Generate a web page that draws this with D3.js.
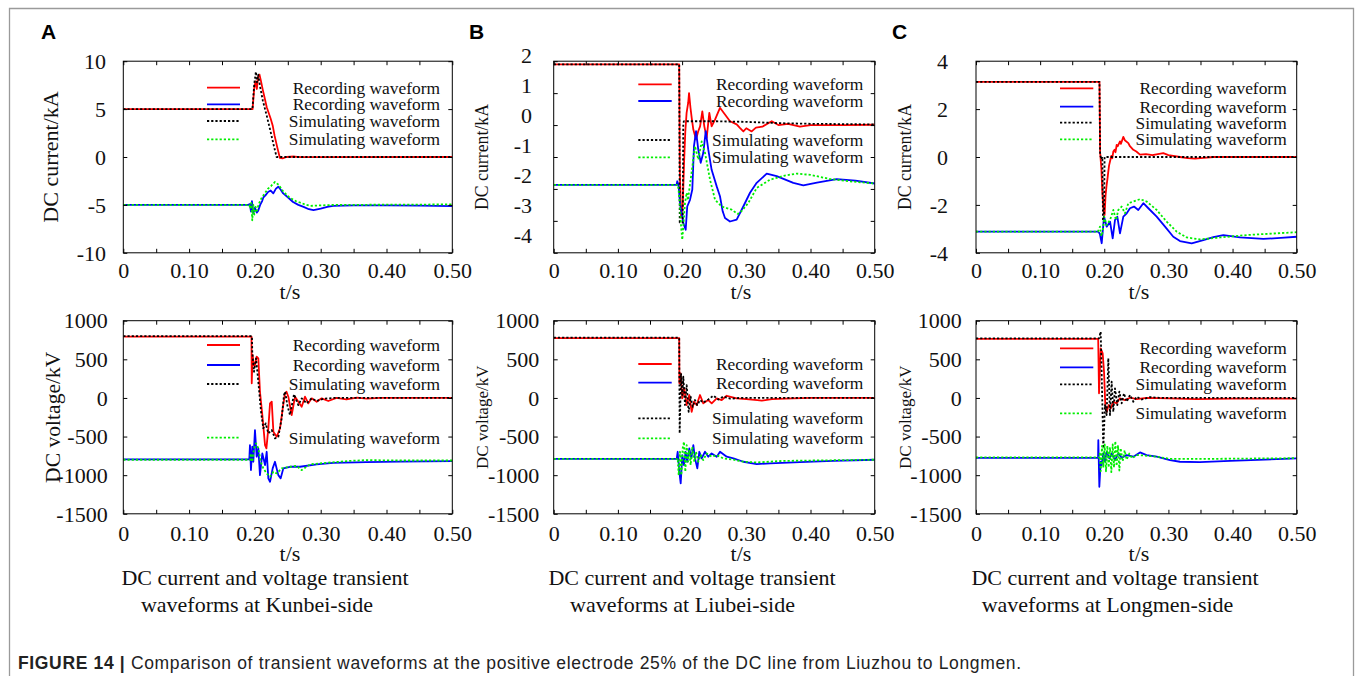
<!DOCTYPE html>
<html>
<head>
<meta charset="utf-8">
<script src="https://cdn.jsdelivr.net/npm/d3@7"></script>
<style>
  body { margin: 0; background: #fff; }
  svg { display: block; }
</style>
</head>
<body>
<svg id="fig" width="1355" height="676"></svg>
<script>
// ---------- time axis ----------
const timeTicks = [0, 0.1, 0.2, 0.3, 0.4, 0.5];
const timeTickLabels = ["0", "0.10", "0.20", "0.30", "0.40", "0.50"];
const timeMinorTicks = [0, 0.05, 0.1, 0.15, 0.2, 0.25, 0.3, 0.35, 0.4, 0.45, 0.5];

// ---------- y axis ticks ----------
const kunbeiCurrentTicks = [-10, -5, 0, 5, 10];
const liubeiCurrentTicks = [-4, -3, -2, -1, 0, 1, 2];
const longmenCurrentTicks = [-4, -2, 0, 2, 4];
const voltageTicks = [-1500, -1000, -500, 0, 500, 1000];

// ---------- legend text ----------
const legendLabels = ["Recording waveform", "Recording waveform", "Simulating waveform", "Simulating waveform"];

// ---------- Kunbei-side DC current (kA), [t (s), value] ----------
const kunbeiCurRecPos = [[0,5],[0.1965,5],[0.199,7.2],[0.201,7.9],[0.203,7.1],[0.205,8.4],[0.207,8.6],[0.209,8.0],[0.212,7.0],[0.215,6.1],[0.218,5.2],[0.221,4.6],[0.224,4.0],[0.227,3.3],[0.230,2.2],[0.234,1.0],[0.238,-0.1],[0.242,-0.15],[0.248,0],[0.26,0.05],[0.27,-0.02],[0.5,0]];
const kunbeiCurRecNeg = [[0,-5],[0.19,-5],[0.1925,-4.9],[0.194,-5.7],[0.1955,-4.6],[0.1976,-5.9],[0.2,-5.3],[0.203,-5.8],[0.205,-5.6],[0.208,-5.0],[0.211,-4.6],[0.213,-4.2],[0.216,-4.0],[0.220,-3.65],[0.224,-3.5],[0.228,-3.8],[0.232,-3.3],[0.2356,-3.1],[0.239,-3.4],[0.243,-3.8],[0.25,-4.2],[0.258,-4.7],[0.266,-5.0],[0.274,-5.2],[0.282,-5.45],[0.289,-5.55],[0.30,-5.4],[0.31,-5.2],[0.319,-5.1],[0.35,-5.05],[0.40,-5.05],[0.45,-5.08],[0.5,-5.12]];
const kunbeiCurSimPos = [[0,5],[0.1962,5],[0.199,7.6],[0.2015,8.9],[0.203,7.8],[0.205,8.6],[0.208,7.3],[0.212,5.9],[0.218,4.3],[0.224,2.6],[0.229,1.1],[0.233,0],[0.5,0]];
const kunbeiCurSimNeg = [[0,-5],[0.1915,-5],[0.193,-5.4],[0.1945,-4.8],[0.196,-6.6],[0.1975,-5.0],[0.199,-6.0],[0.201,-5.2],[0.203,-5.6],[0.206,-4.9],[0.21,-4.3],[0.215,-3.8],[0.22,-3.3],[0.225,-3.0],[0.2305,-2.6],[0.236,-2.9],[0.243,-3.6],[0.252,-4.2],[0.262,-4.6],[0.2685,-4.75],[0.276,-4.95],[0.284,-5.1],[0.30,-5.05],[0.32,-5.0],[0.4,-4.98],[0.5,-4.95]];

// ---------- Liubei-side DC current (kA) ----------
const liubeiCurRecPos = [[0,1.9],[0.1955,1.9],[0.1965,-1.5],[0.1985,-2.9],[0.201,-2.5],[0.203,-1.2],[0.205,-0.2],[0.207,0.38],[0.2095,0.7],[0.2108,1.0],[0.213,0.55],[0.215,0.22],[0.2175,-0.14],[0.2217,-0.45],[0.225,-0.2],[0.228,-0.04],[0.2315,0.43],[0.2346,-0.04],[0.2383,-0.4],[0.2424,0.38],[0.246,-0.04],[0.2513,0.17],[0.259,0.54],[0.2668,0.33],[0.2746,0.12],[0.285,0.02],[0.29,-0.09],[0.2954,-0.2],[0.30,-0.1],[0.3084,-0.2],[0.315,-0.08],[0.325,-0.05],[0.3396,0.12],[0.35,0.0],[0.365,0.04],[0.3836,-0.05],[0.40,0.0],[0.45,0.0],[0.5,0.01]];
const liubeiCurRecNeg = [[0,-1.87],[0.1915,-1.87],[0.1925,-1.76],[0.1945,-1.9],[0.1967,-2.44],[0.2019,-3.07],[0.2056,-3.28],[0.208,-2.55],[0.2123,-2.34],[0.2159,-2.02],[0.2185,-0.66],[0.2217,-0.19],[0.2252,-0.77],[0.229,-1.18],[0.233,-0.87],[0.2368,-0.19],[0.2408,-0.77],[0.246,-1.4],[0.2539,-1.92],[0.259,-2.23],[0.2632,-2.7],[0.2668,-2.91],[0.2746,-3.02],[0.285,-2.96],[0.2953,-2.55],[0.3058,-2.12],[0.3162,-1.81],[0.3318,-1.52],[0.3473,-1.6],[0.3732,-1.81],[0.3888,-1.89],[0.41,-1.8],[0.4408,-1.69],[0.47,-1.74],[0.5,-1.83]];
const liubeiCurSimPos = [[0,1.9],[0.1955,1.9],[0.1963,-3.05],[0.201,-3.05],[0.2018,0.07],[0.203,0.12],[0.25,0.12],[0.30,0.1],[0.35,0.06],[0.40,0.04],[0.5,0.02]];
const liubeiCurSimNeg = [[0,-1.87],[0.1935,-1.87],[0.196,-2.3],[0.1985,-3.2],[0.2003,-3.59],[0.2025,-3.0],[0.2045,-2.44],[0.2072,-2.12],[0.209,-2.35],[0.212,-1.9],[0.216,-1.3],[0.22,-0.66],[0.2253,-1.08],[0.2305,-0.51],[0.2357,-0.87],[0.2435,-1.71],[0.2513,-2.34],[0.2617,-2.55],[0.2773,-2.65],[0.2865,-2.78],[0.2902,-2.75],[0.3031,-2.44],[0.3162,-1.97],[0.337,-1.71],[0.36,-1.58],[0.3785,-1.52],[0.40,-1.56],[0.4304,-1.69],[0.46,-1.76],[0.5,-1.83]];

// ---------- Longmen-side DC current (kA) ----------
const longmenCurRecPos = [[0,3.14],[0.1925,3.14],[0.1935,0.2],[0.1955,-0.5],[0.197,-1.5],[0.199,-2.3],[0.2005,-2.42],[0.202,-1.6],[0.2037,-1.16],[0.205,-0.9],[0.2063,-0.6],[0.2075,-0.35],[0.2089,-0.19],[0.211,0.05],[0.2125,-0.05],[0.2141,0.23],[0.216,0.3],[0.2175,0.2],[0.2193,0.51],[0.221,0.45],[0.2245,0.65],[0.226,0.55],[0.2297,0.84],[0.232,0.7],[0.2375,0.58],[0.24,0.45],[0.2453,0.3],[0.25,0.23],[0.2557,0.1],[0.265,0.12],[0.275,0.08],[0.292,0.16],[0.30,0.08],[0.318,0.0],[0.33,-0.05],[0.3414,-0.07],[0.355,-0.04],[0.37,0.0],[0.5,0.0]];
const longmenCurRecNeg = [[0,-3.12],[0.1905,-3.12],[0.193,-3.2],[0.196,-3.6],[0.1996,-2.49],[0.2038,-2.91],[0.209,-2.7],[0.2131,-3.4],[0.2167,-2.63],[0.2203,-2.49],[0.2245,-3.19],[0.2297,-2.49],[0.235,-2.35],[0.2401,-2.14],[0.2463,-2.07],[0.253,-2.21],[0.2609,-1.93],[0.2687,-2.14],[0.2817,-2.49],[0.2947,-2.91],[0.3076,-3.33],[0.318,-3.51],[0.3363,-3.61],[0.3544,-3.47],[0.37,-3.35],[0.3856,-3.26],[0.4116,-3.36],[0.448,-3.42],[0.475,-3.38],[0.5,-3.33]];
const longmenCurSimPos = [[0,3.14],[0.1925,3.14],[0.1935,0.1],[0.1955,-0.1],[0.197,0.0],[0.198,-2.7],[0.1995,-2.7],[0.2005,0.0],[0.5,0.0]];
const longmenCurSimNeg = [[0,-3.12],[0.19,-3.12],[0.1933,-2.91],[0.1955,-3.3],[0.1975,-3.12],[0.2,-2.49],[0.2037,-2.84],[0.209,-2.63],[0.2141,-2.21],[0.2183,-2.63],[0.2219,-2.21],[0.2271,-2.07],[0.2323,-2.35],[0.2375,-1.93],[0.2453,-1.86],[0.2557,-1.76],[0.2661,-1.86],[0.2817,-2.21],[0.2973,-2.7],[0.3129,-3.12],[0.3285,-3.36],[0.3492,-3.44],[0.3804,-3.36],[0.422,-3.26],[0.46,-3.2],[0.5,-3.14]];

// ---------- Kunbei-side DC voltage (kV) ----------
const kunbeiVolRecPos = [[0,795],[0.1948,795],[0.1952,189],[0.1965,556],[0.1985,420],[0.2003,426],[0.2027,534],[0.2052,513],[0.2077,80],[0.2113,-221],[0.2154,-610],[0.2175,-653],[0.2204,-394],[0.223,-70],[0.2256,-49],[0.2281,-438],[0.2332,-503],[0.2382,-394],[0.2423,-135],[0.2458,60],[0.248,80],[0.2508,16],[0.2559,-221],[0.261,16],[0.266,-49],[0.2711,-114],[0.2761,16],[0.2812,-70],[0.2863,-5],[0.2939,-49],[0.3015,-5],[0.3116,-40],[0.324,0],[0.339,-20],[0.355,5],[0.37,-10],[0.39,0],[0.5,0]];
const kunbeiVolRecNeg = [[0,-795],[0.1915,-795],[0.1925,-610],[0.194,-934],[0.196,-632],[0.1976,-826],[0.2001,-416],[0.2027,-761],[0.2052,-653],[0.2077,-999],[0.2113,-718],[0.2154,-869],[0.2179,-697],[0.2204,-1041],[0.223,-1085],[0.227,-912],[0.2305,-826],[0.2356,-999],[0.2392,-1041],[0.2432,-912],[0.2533,-891],[0.2685,-891],[0.2939,-860],[0.319,-840],[0.3697,-830],[0.4204,-825],[0.5,-817]];
const kunbeiVolSimPos = [[0,800],[0.1955,800],[0.196,598],[0.1986,339],[0.2017,513],[0.2052,210],[0.2093,-179],[0.2128,-394],[0.2164,-329],[0.2204,-459],[0.2256,-416],[0.2305,-523],[0.2356,-503],[0.2407,-264],[0.2442,38],[0.246,81],[0.2492,-92],[0.2533,-221],[0.2594,47],[0.266,-92],[0.2711,-5],[0.2787,-70],[0.2863,-5],[0.294,-40],[0.304,-10],[0.32,0],[0.5,0]];
const kunbeiVolSimNeg = [[0,-800],[0.193,-800],[0.1936,-718],[0.196,-826],[0.1986,-653],[0.2017,-588],[0.2052,-653],[0.2088,-826],[0.2128,-912],[0.2179,-977],[0.223,-1020],[0.2281,-956],[0.2332,-977],[0.2407,-912],[0.2533,-891],[0.2634,-880],[0.2711,-934],[0.2837,-860],[0.309,-840],[0.344,-815],[0.3697,-805],[0.42,-810],[0.5,-810]];

// ---------- Liubei-side DC voltage (kV) ----------
const liubeiVolRecPos = [[0,775],[0.1955,775],[0.1958,189],[0.1978,319],[0.2003,-5],[0.2034,124],[0.2071,-92],[0.2112,38],[0.2149,-179],[0.2185,-49],[0.2227,-92],[0.2279,38],[0.233,-70],[0.2408,-27],[0.2461,-70],[0.2539,-5],[0.2617,-27],[0.2695,28],[0.285,-5],[0.3,-15],[0.3172,-27],[0.324,-35],[0.34,-15],[0.361,-10],[0.4,0],[0.5,0]];
const liubeiVolRecNeg = [[0,-790],[0.1916,-790],[0.1931,-697],[0.1957,-956],[0.1978,-1106],[0.2003,-740],[0.2029,-869],[0.2055,-697],[0.2081,-826],[0.2112,-653],[0.2144,-783],[0.2175,-610],[0.2201,-783],[0.2237,-912],[0.2268,-697],[0.2305,-783],[0.2357,-697],[0.2408,-761],[0.246,-718],[0.2539,-761],[0.2591,-697],[0.2695,-761],[0.2799,-783],[0.2955,-826],[0.3162,-856],[0.337,-847],[0.3838,-830],[0.4357,-815],[0.5,-800]];
const liubeiVolSimPos = [[0,780],[0.1955,780],[0.1962,-459],[0.1983,319],[0.2003,38],[0.2019,275],[0.2045,-92],[0.2071,167],[0.2102,-179],[0.2133,16],[0.2165,-114],[0.2201,-27],[0.2237,-92],[0.2279,-27],[0.233,-60],[0.2408,-20],[0.2487,30],[0.2565,-20],[0.2643,20],[0.2747,-10],[0.29,0],[0.5,0]];
const liubeiVolSimNeg = [[0,-790],[0.1925,-790],[0.1931,-783],[0.1947,-999],[0.1967,-697],[0.1988,-999],[0.2009,-653],[0.2029,-567],[0.205,-956],[0.2071,-610],[0.2092,-826],[0.2112,-675],[0.2133,-869],[0.2159,-632],[0.219,-826],[0.2216,-697],[0.2253,-826],[0.229,-740],[0.233,-804],[0.2382,-718],[0.246,-761],[0.2539,-740],[0.2643,-783],[0.28,-800],[0.2955,-826],[0.3162,-835],[0.3577,-815],[0.5,-800]];

// ---------- Longmen-side DC voltage (kV) ----------
const longmenVolRecPos = [[0,765],[0.1905,765],[0.1918,60],[0.1944,642],[0.1975,578],[0.1996,339],[0.2016,-92],[0.2038,-179],[0.2069,-92],[0.21,-135],[0.2141,-49],[0.2193,-70],[0.2245,-5],[0.2323,-27],[0.2401,3],[0.2505,-15],[0.266,0],[0.30,-5],[0.344,-15],[0.40,-8],[0.5,-10]];
const longmenVolRecNeg = [[0,-775],[0.1903,-775],[0.1907,-545],[0.1923,-1150],[0.1944,-826],[0.1959,-869],[0.1985,-718],[0.2011,-826],[0.2037,-697],[0.2079,-783],[0.2115,-718],[0.2167,-804],[0.2219,-718],[0.2271,-774],[0.2349,-740],[0.2453,-761],[0.2557,-705],[0.266,-740],[0.2817,-761],[0.3025,-804],[0.318,-826],[0.349,-830],[0.396,-815],[0.5,-783]];
const longmenVolSimPos = [[0,770],[0.1905,770],[0.1918,772],[0.1944,858],[0.1959,339],[0.1985,-653],[0.2011,-92],[0.2037,-221],[0.2063,513],[0.2089,-221],[0.2115,210],[0.2141,-179],[0.2167,124],[0.2203,-92],[0.2235,81],[0.2271,-70],[0.2307,60],[0.2349,-49],[0.2401,38],[0.2453,-49],[0.2505,16],[0.2583,-20],[0.2713,10],[0.29,0],[0.5,0]];
const longmenVolSimNeg = [[0,-770],[0.1925,-770],[0.193,-700],[0.1944,-950],[0.1965,-620],[0.1985,-900],[0.2006,-600],[0.2027,-950],[0.2048,-620],[0.2069,-900],[0.2089,-640],[0.211,-960],[0.2131,-600],[0.2152,-900],[0.2172,-560],[0.2193,-880],[0.2214,-620],[0.2235,-940],[0.2255,-650],[0.2287,-820],[0.2318,-680],[0.2349,-800],[0.239,-720],[0.2432,-780],[0.2505,-740],[0.2609,-745],[0.2817,-760],[0.3025,-790],[0.344,-790],[0.5,-780]];

// ---------- drawing ----------
const SERIF = "'Liberation Serif','Times New Roman',Times,serif";
const SANS = "'Liberation Sans',Arial,Helvetica,sans-serif";
const W = 1355, H = 676;

const svg = d3.select("#fig");
svg.append("rect").attr("width", W).attr("height", H).attr("fill", "#fff");

// figure frame (open at the bottom)
svg.append("path")
  .attr("d", "M9.5,676V8.5H1353.5V676")
  .attr("fill", "none").attr("stroke", "#9a9a9a").attr("stroke-width", 1.3);

// line styles for the four traces
const styles = [
  { color: "#ff0000", dash: null },
  { color: "#0000ff", dash: null },
  { color: "#000000", dash: "2.2,2" },
  { color: "#00ee00", dash: "2.2,2" }
];
const drawOrder = [0, 1, 2, 3];

function drawPlot(o) {
  const x = d3.scaleLinear().domain([0, 0.5]).range([o.x0, o.x1]);
  const y = d3.scaleLinear().domain(o.yDomain).range([o.y1, o.y0]);
  const yLab = o.yLabelRange
    ? d3.scaleLinear().domain(o.yDomain).range(o.yLabelRange)
    : y;
  const g = svg.append("g");

  // traces
  const line = d3.line().x(d => x(d[0])).y(d => y(d[1]));
  const clipId = "clip" + Math.round(o.x0) + "_" + Math.round(o.y0);
  g.append("clipPath").attr("id", clipId).append("rect")
    .attr("x", o.x0).attr("y", o.y0 - 1).attr("width", o.x1 - o.x0).attr("height", o.y1 - o.y0 + 2);
  const traces = g.append("g").attr("clip-path", `url(#${clipId})`);
  drawOrder.forEach(i => {
    traces.append("path")
      .datum(o.series[i])
      .attr("d", line)
      .attr("fill", "none")
      .attr("stroke", styles[i].color)
      .attr("stroke-width", 1.8)
      .attr("stroke-linejoin", "round")
      .attr("stroke-dasharray", styles[i].dash);
  });

  // inward ticks on all four sides
  const tickLen = 4;
  const tickAxis = (axis, tx, ty) => {
    const a = g.append("g").attr("transform", `translate(${tx},${ty})`).call(axis);
    a.select(".domain").remove();
    a.selectAll("line").attr("stroke", "#000").attr("stroke-width", 1);
    return a;
  };
  tickAxis(d3.axisBottom(x).tickValues(timeMinorTicks).tickSize(-tickLen).tickFormat(""), 0, o.y1);
  tickAxis(d3.axisTop(x).tickValues(timeMinorTicks).tickSize(-tickLen).tickFormat(""), 0, o.y0);
  tickAxis(d3.axisLeft(y).tickValues(o.yTicks).tickSize(-tickLen).tickFormat(""), o.x0, 0);
  tickAxis(d3.axisRight(y).tickValues(o.yTicks).tickSize(-tickLen).tickFormat(""), o.x1, 0);

  // plot box
  g.append("rect")
    .attr("x", o.x0).attr("y", o.y0)
    .attr("width", o.x1 - o.x0).attr("height", o.y1 - o.y0)
    .attr("fill", "none").attr("stroke", "#000").attr("stroke-width", 1);

  // x tick labels
  const xl = g.append("g").attr("transform", `translate(0,${o.y1})`)
    .call(d3.axisBottom(x).tickValues(timeTicks).tickSize(0).tickPadding(o.xLabelPad)
      .tickFormat((d, i) => timeTickLabels[i]));
  xl.select(".domain").remove();
  xl.selectAll("text").attr("font-family", SERIF).attr("font-size", 22).attr("fill", "#111");

  // y tick labels
  const yl = g.append("g").attr("transform", `translate(${o.yLabelRight},0)`)
    .call(d3.axisLeft(yLab).tickValues(o.yTicks).tickSize(0).tickPadding(0)
      .tickFormat(d3.format("d")));
  yl.select(".domain").remove();
  yl.selectAll("text").attr("font-family", SERIF).attr("font-size", o.yLabelSize || 22)
    .attr("fill", "#111").attr("dy", "0.33em")
    .text(d => (d < 0 ? "-" + Math.abs(d) : String(d)));

  // y title
  g.append("text")
    .attr("transform", `translate(${o.yTitleX},${(o.y0 + o.y1) / 2}) rotate(-90)`)
    .attr("text-anchor", "middle").attr("dy", "0.35em")
    .attr("font-family", SERIF).attr("font-size", o.yTitleSize).attr("fill", "#111")
    .text(o.yTitle);

  // x title
  g.append("text")
    .attr("x", o.tsX).attr("y", o.tsY)
    .attr("text-anchor", "middle")
    .attr("font-family", SERIF).attr("font-size", 22).attr("fill", "#111")
    .text("t/s");

  // legend
  o.legendRows.forEach((ry, i) => {
    g.append("line")
      .attr("x1", o.legendLine[0]).attr("x2", o.legendLine[1])
      .attr("y1", ry).attr("y2", ry)
      .attr("stroke", styles[i].color).attr("stroke-width", 1.8)
      .attr("stroke-dasharray", styles[i].dash);
    g.append("text")
      .attr("x", o.legendTextRight).attr("y", ry).attr("dy", "0.35em")
      .attr("text-anchor", "end")
      .attr("font-family", SERIF).attr("font-size", 17.4).attr("fill", "#111")
      .text(legendLabels[i]);
  });
}

// column layout
const columns = [
  { letter: "A", letterX: 41, x0: 123.3, x1: 452.3, tsX: 290,
    legendLine: [207, 240], legendTextRight: 440,
    captionCx: [265, 257], side: "waveforms at Kunbei-side" },
  { letter: "B", letterX: 469, x0: 553.7, x1: 874.7, tsX: 741,
    legendLine: [638.3, 671.7], legendTextRight: 863.3,
    captionCx: [692, 682.5], side: "waveforms at Liubei-side" },
  { letter: "C", letterX: 892, x0: 976, x1: 1296.7, tsX: 1139,
    legendLine: [1060, 1093.3], legendTextRight: 1286.7,
    captionCx: [1115, 1107.5], side: "waveforms at Longmen-side" }
];

const currentPlots = [
  { yDomain: [-10, 10], yTicks: kunbeiCurrentTicks, yLabelRight: 106,
    yTitle: "DC current/kA", yTitleX: 50.5, yTitleSize: 22,
    series: [kunbeiCurRecPos, kunbeiCurRecNeg, kunbeiCurSimPos, kunbeiCurSimNeg],
    legendRows: [87.7, 104.3, 121, 139.3] },
  { yDomain: [-4, 2], yTicks: liubeiCurrentTicks, yLabelRight: 532, yLabelRange: [235, 55],
    yTitle: "DC current/kA", yTitleX: 482, yTitleSize: 17.8,
    series: [liubeiCurRecPos, liubeiCurRecNeg, liubeiCurSimPos, liubeiCurSimNeg],
    legendRows: [84.3, 101, 140, 157.3] },
  { yDomain: [-4, 4], yTicks: longmenCurrentTicks, yLabelRight: 948,
    yTitle: "DC current/kA", yTitleX: 905, yTitleSize: 17.8,
    series: [longmenCurRecPos, longmenCurRecNeg, longmenCurSimPos, longmenCurSimNeg],
    legendRows: [88.3, 106.7, 122.7, 139.3] }
];

const voltagePlots = [
  { yLabelRight: 107.7, yTitle: "DC voltage/kV", yTitleX: 52, yTitleSize: 21.6,
    series: [kunbeiVolRecPos, kunbeiVolRecNeg, kunbeiVolSimPos, kunbeiVolSimNeg],
    legendRows: [345, 365, 384, 437.7] },
  { yLabelRight: 539.3, yTitle: "DC voltage/kV", yTitleX: 482, yTitleSize: 17,
    series: [liubeiVolRecPos, liubeiVolRecNeg, liubeiVolSimPos, liubeiVolSimNeg],
    legendRows: [364, 382.7, 418.3, 438.3] },
  { yLabelRight: 961.7, yTitle: "DC voltage/kV", yTitleX: 905.5, yTitleSize: 17,
    series: [longmenVolRecPos, longmenVolRecNeg, longmenVolSimPos, longmenVolSimNeg],
    legendRows: [348.3, 367.3, 384.3, 413.3] }
];

columns.forEach((c, i) => {
  drawPlot(Object.assign({}, currentPlots[i], {
    x0: c.x0, x1: c.x1, y0: 61.2, y1: 252.8,
    xLabelPad: 9.3, tsX: c.tsX, tsY: 298.5,
    legendLine: c.legendLine, legendTextRight: c.legendTextRight
  }));
  drawPlot(Object.assign({}, voltagePlots[i], {
    x0: c.x0, x1: c.x1, y0: 320.7, y1: 513.8,
    yDomain: [-1500, 1000], yTicks: voltageTicks,
    xLabelPad: 11.8, tsX: c.tsX, tsY: 560.5,
    legendLine: c.legendLine, legendTextRight: c.legendTextRight
  }));

  // panel letter
  svg.append("text")
    .attr("x", c.letterX).attr("y", 38.5)
    .attr("font-family", SANS).attr("font-weight", "bold").attr("font-size", 21)
    .attr("fill", "#000").text(c.letter);

  // sub-caption
  svg.append("text")
    .attr("x", c.captionCx[0]).attr("y", 585)
    .attr("text-anchor", "middle")
    .attr("font-family", SERIF).attr("font-size", 22).attr("fill", "#111")
    .text("DC current and voltage transient");
  svg.append("text")
    .attr("x", c.captionCx[1]).attr("y", 611.5)
    .attr("text-anchor", "middle")
    .attr("font-family", SERIF).attr("font-size", 22).attr("fill", "#111")
    .text(c.side);
});

// figure caption
const cap = svg.append("text")
  .attr("x", 18).attr("y", 669)
  .attr("font-family", SANS).attr("font-size", 17.5).attr("letter-spacing", 0.65)
  .attr("fill", "#222");
cap.append("tspan").attr("font-weight", "bold").text("FIGURE 14 | ");
cap.append("tspan").text("Comparison of transient waveforms at the positive electrode 25% of the DC line from Liuzhou to Longmen.");
</script>
</body>
</html>
